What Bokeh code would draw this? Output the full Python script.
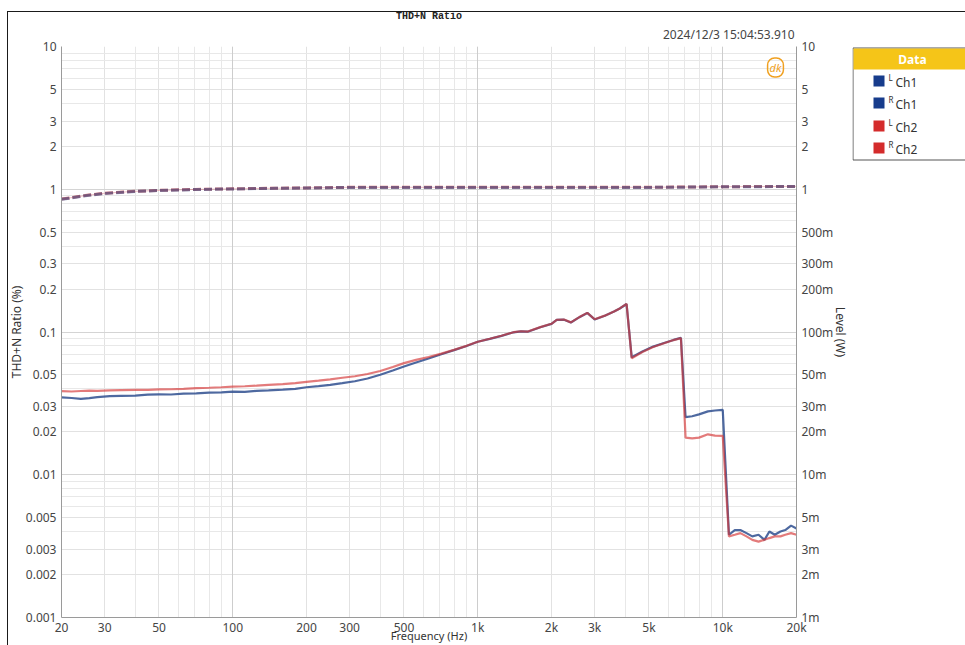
from bokeh.plotting import figure
from bokeh.layouts import row
from bokeh.models import (Range1d, LogScale, LogAxis, FixedTicker, Label, Title,
                          Grid, InlineStyleSheet)
from bokeh.core.properties import value
from bokeh.embed import file_html
from bokeh.resources import INLINE

# THD+N sweep, percent
freq = [20, 22, 24, 26, 28, 31.5, 35, 40, 45, 50, 56, 63, 71, 80, 90, 100, 112, 125, 140, 160,
        180, 200, 224, 250, 280, 315, 355, 400, 450, 500, 560, 630, 710, 800, 900, 1000, 1120,
        1250, 1400, 1500, 1600, 1800, 2000, 2100, 2250, 2400, 2600, 2800, 3000, 3300, 3600,
        3800, 4050, 4250, 4700, 5200, 5800, 6300, 6750, 7050, 7500, 8000, 8700, 9300, 10000,
        10600, 11200, 11800, 12500, 13200, 14000, 14800, 15500, 16300, 17200, 18000, 19000, 20000]

thd_ch1 = [0.0348, 0.0345, 0.0340, 0.0344, 0.0350, 0.0356, 0.0357, 0.0358, 0.0364, 0.0366,
           0.0365, 0.0370, 0.0372, 0.0376, 0.0378, 0.0382, 0.0381, 0.0387, 0.0390, 0.0395,
           0.0400, 0.0410, 0.0418, 0.0426, 0.0438, 0.0452, 0.0472, 0.0502, 0.0538, 0.0573,
           0.0612, 0.0652, 0.0698, 0.0746, 0.0798, 0.0855, 0.0895, 0.0940, 0.0995, 0.1010,
           0.1005, 0.1080, 0.1140, 0.1215, 0.1220, 0.1165, 0.1270, 0.1360, 0.1225, 0.1300,
           0.1390, 0.1460, 0.1570, 0.0665, 0.0730, 0.0790, 0.0840, 0.0880, 0.0910, 0.0253,
           0.0257, 0.0265, 0.0278, 0.0282, 0.0285, 0.0038, 0.0041, 0.0041, 0.0039, 0.0037,
           0.0038, 0.0035, 0.0040, 0.0038, 0.0040, 0.0041, 0.0044, 0.0042]

thd_ch2 = [0.0385, 0.0383, 0.0386, 0.0388, 0.0387, 0.0390, 0.0392, 0.0393, 0.0393, 0.0396,
           0.0397, 0.0400, 0.0404, 0.0407, 0.0410, 0.0414, 0.0417, 0.0421, 0.0426, 0.0431,
           0.0438, 0.0447, 0.0456, 0.0466, 0.0478, 0.0490, 0.0508, 0.0533, 0.0568, 0.0605,
           0.0638, 0.0668, 0.0705, 0.0750, 0.0800, 0.0855, 0.0897, 0.0942, 0.0997, 0.1012,
           0.1007, 0.1082, 0.1142, 0.1218, 0.1222, 0.1168, 0.1272, 0.1362, 0.1228, 0.1302,
           0.1392, 0.1462, 0.1572, 0.0655, 0.0725, 0.0785, 0.0838, 0.0878, 0.0905, 0.0182,
           0.0180, 0.0182, 0.0192, 0.0188, 0.0187, 0.0037, 0.0038, 0.0039, 0.0037, 0.0035,
           0.0034, 0.0035, 0.0036, 0.0037, 0.0037, 0.0038, 0.0039, 0.0038]

# Output level, watts (right axis)
lvl_freq = [20, 25, 30, 40, 50, 70, 100, 150, 200, 300, 500, 1000, 2000, 5000, 10000, 20000]
lvl_ch1 = [0.850, 0.900, 0.935, 0.965, 0.980, 0.995, 1.005, 1.015, 1.020, 1.030, 1.030,
           1.030, 1.030, 1.030, 1.040, 1.045]
lvl_ch2 = [0.853, 0.903, 0.938, 0.967, 0.982, 0.997, 1.007, 1.017, 1.022, 1.032, 1.032,
           1.032, 1.032, 1.032, 1.042, 1.047]

x_ticks = [20, 30, 50, 100, 200, 300, 500, 1000, 2000, 3000, 5000, 10000, 20000]
x_labels = ["20", "30", "50", "100", "200", "300", "500", "1k", "2k", "3k", "5k", "10k", "20k"]
x_minor = [40, 60, 70, 80, 90, 400, 600, 700, 800, 900, 4000, 6000, 7000, 8000, 9000]
x_decades = [100, 1000, 10000]

y_ticks = [0.001, 0.002, 0.003, 0.005, 0.01, 0.02, 0.03, 0.05, 0.1, 0.2, 0.3, 0.5, 1, 2, 3, 5, 10]
y_labels = ["0.001", "0.002", "0.003", "0.005", "0.01", "0.02", "0.03", "0.05", "0.1", "0.2",
            "0.3", "0.5", "1", "2", "3", "5", "10"]
lvl_labels = ["1m", "2m", "3m", "5m", "10m", "20m", "30m", "50m", "100m", "200m", "300m",
              "500m", "1", "2", "3", "5", "10"]
y_minor = [0.004, 0.006, 0.007, 0.008, 0.009, 0.04, 0.06, 0.07, 0.08, 0.09,
           0.4, 0.6, 0.7, 0.8, 0.9, 4, 6, 7, 8, 9]
y_decades = [0.01, 0.1, 1]

legend_sup = ["L", "R", "L", "R"]
legend_names = ["Ch1", "Ch1", "Ch2", "Ch2"]
legend_colors = ["#173c8c", "#173c8c", "#d42b2b", "#d42b2b"]

W, H = 965, 645
PLOT_W = 852
LEG_W = W - PLOT_W
FONT = "Noto Sans"
BLUE = "#2f4f8f"
RED = "#d43434"

p = figure(width=PLOT_W, height=H, x_axis_type="log", y_axis_type="log",
           x_range=Range1d(20, 20000), y_range=Range1d(0.001, 10),
           output_backend="svg", toolbar_location=None,
           min_border_left=61, min_border_right=55, min_border_top=46, min_border_bottom=28)
p.frame_align = False
p.outline_line_color = None
p.background_fill_color = "white"
p.border_fill_color = "white"

# titles: chart name on the outside, timestamp just above the frame
p.title.text = "THD+N Ratio"
p.title.align = "center"
p.title.text_font = "Liberation Mono"
p.title.text_font_style = "bold"
p.title.text_font_size = "10px"
p.title.text_color = "#222222"
p.title.standoff = -3
p.add_layout(Title(text="2024/12/3 15:04:53.910", align="right", offset=2,
                   text_font=FONT, text_font_style="normal", text_font_size="12px",
                   text_color="#454545", standoff=7), "above")

p.extra_y_ranges = {"lvl": Range1d(0.001, 10)}
p.extra_y_scales = {"lvl": LogScale()}

# axes
p.xaxis.ticker = FixedTicker(ticks=x_ticks, minor_ticks=x_minor)
p.xaxis.major_label_overrides = {t: s for t, s in zip(x_ticks, x_labels)}
p.yaxis.ticker = FixedTicker(ticks=y_ticks, minor_ticks=y_minor)
p.yaxis.major_label_overrides = {t: s for t, s in zip(y_ticks, y_labels)}

right_axis = LogAxis(y_range_name="lvl", ticker=FixedTicker(ticks=y_ticks, minor_ticks=y_minor))
right_axis.major_label_overrides = {t: s for t, s in zip(y_ticks, lvl_labels)}
p.add_layout(right_axis, "right")

for ax in [p.xaxis[0], p.yaxis[0], right_axis]:
    ax.major_tick_line_color = None
    ax.minor_tick_line_color = None
    ax.major_tick_out = 0
    ax.minor_tick_out = 0
    ax.axis_line_color = "#9a9a9a"
    ax.major_label_text_font = FONT
    ax.major_label_text_font_size = "12px"
    ax.major_label_text_color = "#454545"
    ax.major_label_standoff = 5
    ax.axis_label_text_font = FONT
    ax.axis_label_text_font_size = "12px"
    ax.axis_label_text_font_style = "normal"
    ax.axis_label_text_color = "#333333"

p.xaxis.major_label_standoff = 1
p.xaxis.axis_label = "Frequency (Hz)"
p.xaxis.axis_label_text_font_size = "11px"
p.xaxis.axis_label_standoff = -11
p.yaxis.axis_label = "THD+N Ratio (%)"
p.yaxis.axis_label_standoff = -2
right_axis.axis_label = "Level (W)"
right_axis.axis_label_standoff = -4

# grid
for g in [p.xgrid[0], p.ygrid[0]]:
    g.grid_line_color = "#e2e2e2"
    g.minor_grid_line_color = "#e8e8e8"
p.add_layout(Grid(dimension=0, ticker=FixedTicker(ticks=x_decades), grid_line_color="#cdcdcd"))
p.add_layout(Grid(dimension=1, ticker=FixedTicker(ticks=y_decades), grid_line_color="#d4d4d4"))

# level curves (dashed, right axis)
p.line(lvl_freq, lvl_ch2, y_range_name="lvl", line_color="#d84050", line_width=1, line_alpha=0.35)
p.line(lvl_freq, lvl_ch2, y_range_name="lvl", line_color="#d03a3a", line_width=3,
       line_alpha=0.7, line_dash="8 3")
p.line(lvl_freq, lvl_ch1, y_range_name="lvl", line_color="#2a4a8a", line_width=3,
       line_alpha=0.55, line_dash="8 3")

# THD+N curves
p.line(freq, thd_ch1, line_color=BLUE, line_width=2.2, line_alpha=0.85)
p.line(freq, thd_ch2, line_color=RED, line_width=2.2, line_alpha=0.65)

# maker badge, top right of the frame
p.add_layout(Label(x=714, y=550, x_units="screen", y_units="screen", text="dk",
                   text_font=FONT, text_font_style="italic", text_font_size="11px",
                   text_align="center", text_baseline="middle", text_color="#f0a020",
                   border_line_color="#f0a020", border_line_width=1.5, padding=2,
                   border_radius=7))

# legend panel, drawn in its own small canvas (y counted from the top)
leg = figure(width=LEG_W, height=H, x_range=Range1d(0, LEG_W), y_range=Range1d(H, 0),
             output_backend="svg", toolbar_location=None,
             x_axis_location=None, y_axis_location=None, min_border=0)
leg.frame_align = False
leg.grid.visible = False
leg.outline_line_color = None
leg.background_fill_color = "white"
leg.border_fill_color = "white"

leg.quad(left=[0.5], right=[LEG_W + 5], top=[47.5], bottom=[159.5],
         fill_color="white", line_color="#555555", line_width=1)
leg.quad(left=[1], right=[LEG_W + 5], top=[48], bottom=[69],
         fill_color="#f5c518", line_color=None)
leg.text(x=[60], y=[58.5], text=["Data"], text_font=value(FONT), text_font_style="bold",
         text_font_size="12px", text_align="center", text_baseline="middle",
         text_color="white")

row_y = [81, 103, 126, 148]
leg.quad(left=[21] * 4, right=[32] * 4, top=[y - 6 for y in row_y],
         bottom=[y + 5 for y in row_y], fill_color=legend_colors, line_color=None)
leg.text(x=[36] * 4, y=[y - 4 for y in row_y], text=legend_sup, text_font=value(FONT),
         text_font_size="8px", text_align="left", text_baseline="middle", text_color="#333333")
leg.text(x=[43] * 4, y=[y + 1 for y in row_y], text=legend_names, text_font=value(FONT),
         text_font_size="12px", text_align="left", text_baseline="middle", text_color="#333333")

# thin outer frame around the whole window
frame_css = InlineStyleSheet(css="""
:host { position: relative; }
:host::after {
  content: ""; position: absolute; left: 7px; top: 11px; right: 0; bottom: 0;
  border-left: 1px solid #1a1a1a; border-top: 1px solid #1a1a1a;
  pointer-events: none; z-index: 100;
}
""")

layout = row(p, leg, spacing=0, stylesheets=[frame_css])

open("out.html", "w").write(file_html(layout, INLINE))
